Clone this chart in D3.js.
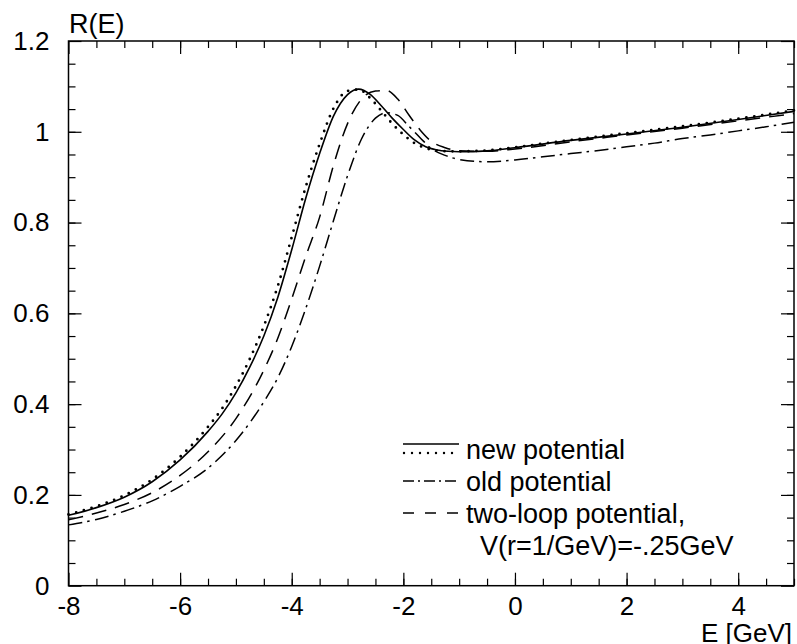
<!DOCTYPE html>
<meta charset="utf-8">
<style>
body { margin: 0; background: #fff; }
text { font-family: "Liberation Sans", Arial, sans-serif; fill: #000; }
.axis text { font-size: 26px; }
.axis line { stroke: #000; stroke-width: 1.2px; }
.axis path { display: none; }
.curve { fill: none; stroke: #000; }
</style>
<body>
<svg width="797" height="644"></svg>
<script src="https://d3js.org/d3.v7.min.js"></script>
<script>

// tick values
var xMajor = [-8, -6, -4, -2, 0, 2, 4];
var xMinor = d3.range(-7.5, 5.01, 0.5);
var yMajor = [0, 0.2, 0.4, 0.6, 0.8, 1, 1.2];
var yMinor = d3.range(0.05, 1.2, 0.05);

// new potential (solid)
var newE = [-8,-7.5,-7,-6.5,-6,-5.5,-5.25,-5,-4.75,-4.5,-4.25,-4,-3.75,-3.5,-3.25,-3,-2.8,-2.6,-2.4,-2.2,-2,-1.8,-1.6,-1.4,-1.2,-1,-0.5,0,1,2,3,4,5];
var newR = [0.155,0.172,0.195,0.229,0.277,0.340,0.378,0.425,0.482,0.55,0.635,0.74,0.853,0.952,1.035,1.082,1.094,1.083,1.058,1.03,1.005,0.982,0.967,0.960,0.957,0.956,0.958,0.965,0.981,0.995,1.010,1.027,1.045];

// new potential, second variant (dotted)
var newDotR = [0.157,0.175,0.199,0.234,0.284,0.350,0.390,0.44,0.50,0.572,0.66,0.768,0.878,0.973,1.052,1.09,1.093,1.075,1.047,1.018,0.994,0.975,0.964,0.959,0.957,0.957,0.959,0.966,0.982,0.997,1.012,1.029,1.047];

// old potential (dash-dot)
var oldE = [-8,-7.5,-7,-6.5,-6,-5.5,-5,-4.5,-4.25,-4,-3.75,-3.5,-3.25,-3,-2.75,-2.5,-2.3,-2.1,-1.9,-1.7,-1.5,-1.25,-1,-0.5,0,0.5,1,1.5,2,2.5,3,3.5,4,4.5,5];
var oldR = [0.134,0.146,0.164,0.187,0.219,0.259,0.32,0.405,0.458,0.527,0.61,0.704,0.805,0.903,0.984,1.03,1.042,1.036,1.012,0.987,0.963,0.948,0.939,0.934,0.938,0.945,0.952,0.959,0.967,0.975,0.985,0.993,1.002,1.011,1.021];

// two-loop potential (dashed)
var twoE = [-8,-7.5,-7,-6.5,-6,-5.5,-5,-4.5,-4.25,-4,-3.75,-3.5,-3.25,-3,-2.75,-2.5,-2.3,-2.1,-1.9,-1.7,-1.5,-1.25,-1,-0.5,0,1,2,3,4,5];
var twoR = [0.145,0.160,0.179,0.205,0.243,0.295,0.368,0.475,0.545,0.632,0.725,0.812,0.927,1.018,1.072,1.09,1.091,1.072,1.037,1.004,0.979,0.965,0.958,0.957,0.962,0.978,0.993,1.008,1.024,1.040];

var legendLabels = ["new potential", "old potential", "two-loop potential,", "V(r=1/GeV)=-.25GeV"];

var svg = d3.select("svg");

var plotLeft = 68.5, plotRight = 794, plotTop = 41, plotBottom = 585.7;

var x = d3.scaleLinear().domain([-8, 5]).range([plotLeft, plotRight]);
var y = d3.scaleLinear().domain([0, 1.2]).range([plotBottom, plotTop]);

function plain(d) { return String(d); }

// axes: major/minor ticks on all four sides, pointing inward
svg.append("g").attr("class", "axis")
    .attr("transform", "translate(0," + plotBottom + ")")
    .call(d3.axisBottom(x).tickValues(xMajor).tickSize(-13).tickSizeOuter(0).tickPadding(11).tickFormat(plain));
svg.append("g").attr("class", "axis")
    .attr("transform", "translate(0," + plotBottom + ")")
    .call(d3.axisBottom(x).tickValues(xMinor).tickSize(-7).tickSizeOuter(0).tickFormat(""));
svg.append("g").attr("class", "axis")
    .attr("transform", "translate(0," + plotTop + ")")
    .call(d3.axisTop(x).tickValues(xMajor).tickSize(-13).tickSizeOuter(0).tickFormat(""));
svg.append("g").attr("class", "axis")
    .attr("transform", "translate(0," + plotTop + ")")
    .call(d3.axisTop(x).tickValues(xMinor).tickSize(-7).tickSizeOuter(0).tickFormat(""));

svg.append("g").attr("class", "axis")
    .attr("transform", "translate(" + plotLeft + ",0)")
    .call(d3.axisLeft(y).tickValues(yMajor).tickSize(-13).tickSizeOuter(0).tickPadding(19).tickFormat(plain));
svg.append("g").attr("class", "axis")
    .attr("transform", "translate(" + plotLeft + ",0)")
    .call(d3.axisLeft(y).tickValues(yMinor).tickSize(-7).tickSizeOuter(0).tickFormat(""));
svg.append("g").attr("class", "axis")
    .attr("transform", "translate(" + plotRight + ",0)")
    .call(d3.axisRight(y).tickValues(yMajor).tickSize(-13).tickSizeOuter(0).tickFormat(""));
svg.append("g").attr("class", "axis")
    .attr("transform", "translate(" + plotRight + ",0)")
    .call(d3.axisRight(y).tickValues(yMinor).tickSize(-7).tickSizeOuter(0).tickFormat(""));

// frame
svg.append("rect")
    .attr("x", plotLeft).attr("y", plotTop)
    .attr("width", plotRight - plotLeft).attr("height", plotBottom - plotTop)
    .attr("fill", "none").attr("stroke", "#000").attr("stroke-width", 1.5);

// axis titles
svg.append("text").attr("x", 69).attr("y", 33).style("font-size", "27px").text("R(E)");
svg.append("text").attr("x", 792).attr("y", 642).attr("text-anchor", "end").style("font-size", "26px").text("E [GeV]");

var line = d3.line()
    .x(function(d) { return x(d[0]); })
    .y(function(d) { return y(d[1]); })
    .curve(d3.curveMonotoneX);

var plot = svg.append("g");

function drawCurve(E, R, dash, width, cap) {
  plot.append("path")
      .attr("class", "curve")
      .attr("d", line(d3.zip(E, R)))
      .attr("stroke-width", width)
      .attr("stroke-dasharray", dash)
      .attr("stroke-linecap", cap);
}

drawCurve(newE, newR, null, 1.6, "butt");
drawCurve(newE, newDotR, "0 8", 2.8, "round");
drawCurve(oldE, oldR, "14 5 2.5 5.5", 1.5, "butt");
drawCurve(twoE, twoR, "15 9", 1.5, "butt");

// legend
var lx0 = 403, lx1 = 459, tx = 466;
var legend = svg.append("g").style("font-size", "27px");

legend.append("line").attr("class", "curve").attr("x1", lx0).attr("x2", lx1).attr("y1", 444).attr("y2", 444).attr("stroke-width", 1.6);
legend.append("line").attr("class", "curve").attr("x1", lx0 + 1).attr("x2", lx1).attr("y1", 453).attr("y2", 453)
    .attr("stroke-width", 2.4).attr("stroke-dasharray", "0 8").attr("stroke-linecap", "round");
legend.append("line").attr("class", "curve").attr("x1", lx0).attr("x2", lx1).attr("y1", 481).attr("y2", 481)
    .attr("stroke-width", 1.5).attr("stroke-dasharray", "11 4 2 4");
legend.append("line").attr("class", "curve").attr("x1", lx0).attr("x2", lx1).attr("y1", 513).attr("y2", 513)
    .attr("stroke-width", 1.5).attr("stroke-dasharray", "11 11");

legend.append("text").attr("x", tx).attr("y", 459).text(legendLabels[0]);
legend.append("text").attr("x", tx).attr("y", 491).text(legendLabels[1]);
legend.append("text").attr("x", tx).attr("y", 523).text(legendLabels[2]);
legend.append("text").attr("x", 480).attr("y", 555).text(legendLabels[3]);

</script>
</body>
